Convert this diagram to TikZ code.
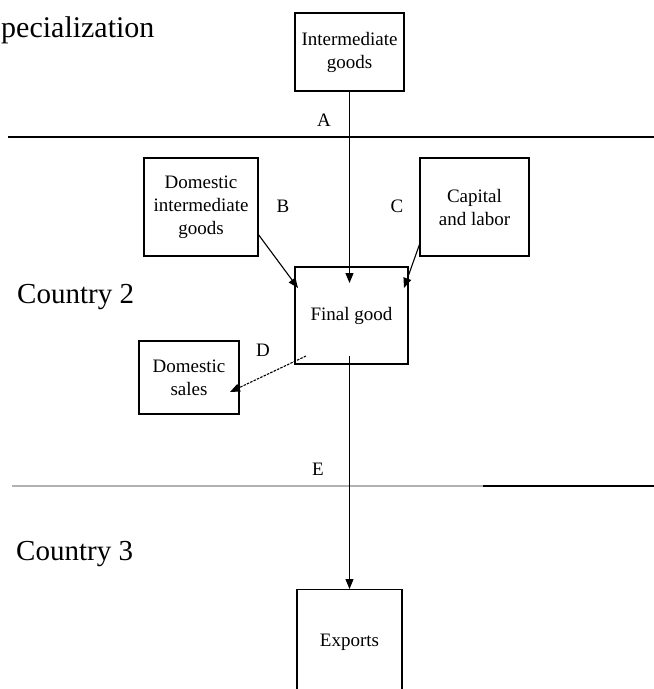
\documentclass[tikz,border=0pt]{standalone}
\usepackage{fontspec}
\setmainfont{Liberation Serif}
\usetikzlibrary{arrows.meta}
\begin{document}
\begin{tikzpicture}[x=1pt,y=-1pt,
  box/.style={draw, line width=1.3pt, inner sep=0pt, align=center,
    font=\fontsize{19}{23}\selectfont},
  lbl/.style={inner sep=0pt, font=\fontsize{19}{23}\selectfont},
  big/.style={inner sep=0pt, anchor=base west, font=\fontsize{29}{34}\selectfont},
  arr/.style={line width=1.1pt, -{Triangle[length=10pt,width=8pt]}},
  sep/.style={line width=1.3pt}]
\clip (0,0) rectangle (654,689);
\fill[white] (0,0) rectangle (654,689);
% titles
\node[big, font=\fontsize{30}{34}\selectfont] (spec) at (1,37) {pecialization};
\node[big] (c2) at (17,303) {Country 2};
\node[big] (c3) at (16,560) {Country 3};
% boxes
\node[box, minimum width=109, minimum height=78] (ig) at (349.5,52) {Intermediate\\goods};
\node[box, minimum width=114, minimum height=98] (dig) at (201,207) {Domestic\\intermediate\\goods};
\node[box, minimum width=109, minimum height=98] (cl) at (474.5,207) {Capital\\and labor};
\node[box, minimum width=113, minimum height=97] (fg) at (351.5,315.5) {\raisebox{-3pt}{Final good}};
\node[box, minimum width=100, minimum height=73] (ds) at (189,377.5) {Domestic\\sales};
\node[box, minimum width=105, minimum height=106, anchor=north] (ex) at (349.5,589) {Exports};
% labels
\node[lbl] (la) at (324,120) {A};
\node[lbl] (lb) at (283,206) {B};
\node[lbl] (lc) at (397,206) {C};
\node[lbl] (ld) at (263,350) {D};
\node[lbl] (le) at (318,469) {E};
% border lines
\coordinate (t1) at (8,137);
\coordinate (t2) at (654,137);
\coordinate (b1) at (12,486);
\coordinate (bm) at (483,486);
\coordinate (b2) at (654,486);
\draw[sep] (t1) -- (t2);
\draw[line width=2pt, black!30] (b1) -- (bm);
\draw[sep] (bm) -- (b2);
% connectors
\coordinate (aE) at (349.5,283);
\coordinate (bS) at (258,234);
\coordinate (bE) at (298,288);
\coordinate (cS) at (420,243);
\coordinate (cE) at (404,288);
\coordinate (dS) at (306,356);
\coordinate (dE) at (230,392);
\coordinate (eS) at (349.5,356);
\draw[arr] (ig.south) -- (aE);
\draw[arr] (bS) -- (bE);
\draw[arr] (cS) -- (cE);
\draw[arr, dash pattern=on 2.5pt off 1.2pt] (dS) -- (dE);
\draw[arr] (eS) -- (ex.north);
\end{tikzpicture}
\end{document}
